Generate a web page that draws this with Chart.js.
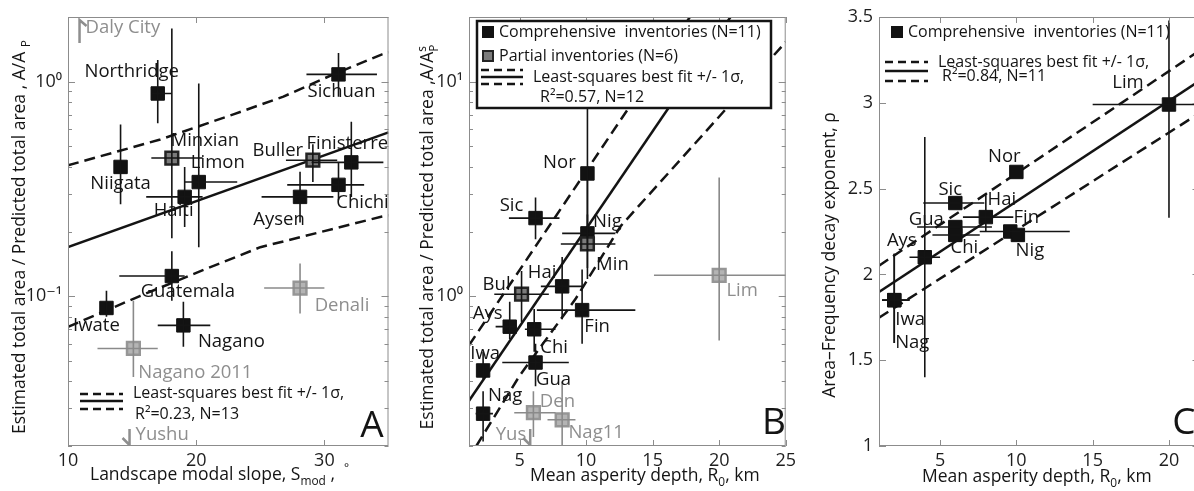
<!DOCTYPE html>
<html>
<head>
<meta charset="utf-8">
<title>Landslide area ratio and decay exponent</title>
<script src="https://cdn.jsdelivr.net/npm/chart.js@4.4.1/dist/chart.umd.min.js"></script>
<style>
  html, body { margin: 0; padding: 0; background: #fff; overflow: hidden; }
  body { width: 1194px; height: 491px; position: relative; }
  canvas { position: absolute; top: 0; }
</style>
</head>
<body>
<canvas id="panelA" width="400" height="491" style="left:0px"></canvas>
<canvas id="panelB" width="400" height="491" style="left:400px"></canvas>
<canvas id="panelC" width="410" height="491" style="left:800px"></canvas>
<script>
const FAMILY = "'Open Sans', 'DejaVu Sans', sans-serif";
const INK = '#141414';
const GREY_TEXT = '#8e8e8e';
const GREY_LINE = '#8a8a8a';
const FRAME = '#8c8c8c';
const LABEL_SIZE = 18.5;
const TICK_SIZE = 18;
const TITLE_SIZE = 17.5;

// ---------- Panel A: landscape modal slope ----------
const aNames = ['Northridge', 'Sichuan', 'Minxian', 'Limon', 'Haiti', 'Niigata', 'Buller', 'Finisterre',
                'Chichi', 'Aysen', 'Guatemala', 'Iwate', 'Nagano', 'Denali', 'Nagano 2011'];
const aKind = ['c', 'c', 'p', 'c', 'c', 'c', 'p', 'c', 'c', 'c', 'c', 'c', 'c', 'x', 'x'];
const aSlope   = [17.0, 31.1, 18.1, 20.2, 19.1, 14.1, 29.1, 32.1, 31.1, 28.1, 18.1, 13.0, 19.0, 28.1, 15.1];
const aSlopeLo = [16.5, 28.6, 16.5, 19.1, 16.1, 14.1, 27.0, 29.0, 27.1, 25.1, 14.0, 13.0, 17.0, 25.3, 12.3];
const aSlopeHi = [18.1, 34.1, 20.5, 23.2, 20.5, 14.1, 31.0, 34.6, 33.1, 30.7, 19.1, 13.0, 21.1, 30.0, 17.0];
const aRatio   = [0.88, 1.08, 0.44, 0.34, 0.29, 0.40, 0.43, 0.42, 0.33, 0.29, 0.124, 0.088, 0.073, 0.109, 0.057];
const aRatioLo = [0.64, 0.85, 0.186, 0.169, 0.21, 0.268, 0.34, 0.29, 0.28, 0.22, 0.095, 0.08, 0.058, 0.083, 0.042];
const aRatioHi = [1.26, 1.36, 1.77, 0.98, 0.40, 0.63, 0.51, 0.65, 0.42, 0.38, 0.162, 0.106, 0.094, 0.142, 0.095];
const aFitX = [10, 35];
const aFitY = [0.169, 0.58];
const aUpX = [10, 17.2, 22.9, 26.8, 30.7, 34.5, 35];
const aUpY = [0.407, 0.537, 0.703, 0.851, 1.08, 1.34, 1.37];
const aLoX = [10, 15.6, 20.1, 25.0, 28.1, 34.5, 35];
const aLoY = [0.0718, 0.1, 0.129, 0.169, 0.188, 0.235, 0.238];
const aOffNames = ['Daly City', 'Yushu'];
const aOffSlope = [10.9, 14.8];
const aOffDir = ['up', 'down'];
const aSlopeTicks = [10, 20, 30];
const aRatioTicks = [0.02, 0.03, 0.04, 0.05, 0.06, 0.07, 0.08, 0.09, 0.1, 0.2, 0.3, 0.4, 0.5, 0.6, 0.7, 0.8, 0.9, 1, 2];
const aRatioMajor = [0.1, 1];
const aRatioMajorText = ['10\u207B\u00B9', '10\u2070'];

// ---------- Panel B: asperity depth vs area ratio ----------
const bNames = ['Nor', 'Sic', 'Nig', 'Min', 'Lim', 'Hai', 'Bul', 'Fin', 'Ays', 'Chi', 'Gua', 'Iwa', 'Nag', 'Den', 'Nag11'];
const bKind = ['c', 'c', 'c', 'p', 'x', 'c', 'p', 'c', 'c', 'c', 'c', 'c', 'c', 'x', 'x'];
const bDepth   = [10.1, 6.2, 10.1, 10.1, 20.0, 8.2, 5.15, 9.7, 4.26, 6.1, 6.2, 2.26, 2.26, 6.04, 8.2];
const bDepthLo = [10.1, 4.2, 8.2, 8.1, 15.1, 6.6, 3.1, 6.3, 3.2, 5.4, 3.7, 2.26, 1.7, 4.6, 7.1];
const bDepthHi = [10.1, 8.0, 12.2, 12.2, 25.0, 9.7, 7.2, 13.7, 4.8, 7.7, 8.7, 2.26, 3.0, 7.7, 9.2];
const bRatio   = [3.73, 2.31, 1.96, 1.75, 1.25, 1.11, 1.02, 0.86, 0.72, 0.70, 0.49, 0.45, 0.283, 0.286, 0.265];
const bRatioLo = [1.9, 1.84, 1.35, 1.2, 0.62, 0.78, 0.757, 0.6, 0.63, 0.55, 0.38, 0.41, 0.21, 0.22, 0.2];
const bRatioHi = [15, 2.88, 3.7, 2.4, 3.57, 1.52, 1.31, 1.33, 0.94, 0.87, 0.6, 0.55, 0.36, 0.36, 0.4];
const bFitX = [1.2, 20.85];
const bFitY = [0.325, 20];
const bUpX = [1.2, 17.8];
const bUpY = [0.59, 20];
const bLoX = [1.75, 5.0, 9.2, 12.6, 19.8, 25];
const bLoY = [0.2, 0.425, 0.968, 2.12, 6.65, 15.3];
const bOffNames = ['Yus'];
const bOffDepth = [5.8];
const bOffDir = ['down'];
const bDepthTicks = [5, 10, 15, 20, 25];
const bRatioTicks = [0.2, 0.3, 0.4, 0.5, 0.6, 0.7, 0.8, 0.9, 1, 2, 3, 4, 5, 6, 7, 8, 9, 10, 20];
const bRatioMajor = [1, 10];
const bRatioMajorText = ['10\u2070', '10\u00B9'];

// ---------- Panel C: asperity depth vs decay exponent ----------
const cNames = ['Lim', 'Nor', 'Sic', 'Hai', 'Gua', 'Chi', 'Fin', 'Nig', 'Ays', 'Iwa', 'Nag'];
const cKind = ['c', 'c', 'c', 'c', 'c', 'c', 'c', 'c', 'c', 'c', 'c'];
const cDepth   = [20.0, 10.0, 6.0, 8.0, 6.0, 6.0, 9.6, 10.1, 4.0, 2.0, 2.0];
const cDepthLo = [15.0, 10.0, 3.9, 6.5, 3.5, 4.5, 7.6, 10.1, 3.0, 1.2, 1.2];
const cDepthHi = [25.0, 10.0, 7.9, 9.8, 8.4, 7.6, 13.5, 10.1, 5.0, 3.0, 3.0];
const cRho   = [2.99, 2.597, 2.416, 2.334, 2.276, 2.23, 2.25, 2.23, 2.10, 1.85, 1.85];
const cRhoLo = [2.33, 2.597, 2.416, 2.25, 2.276, 2.23, 2.25, 2.23, 1.40, 1.60, 1.60];
const cRhoHi = [3.48, 2.597, 2.416, 2.47, 2.276, 2.23, 2.25, 2.23, 2.80, 2.12, 2.12];
const cFitX = [1, 22];
const cFitY = [1.897, 3.128];
const cUpX = [1, 22];
const cUpY = [2.051, 3.304];
const cLoX = [1, 22];
const cLoY = [1.748, 2.94];
const cDepthTicks = [5, 10, 15, 20];
const cRhoTicks = [1, 1.5, 2, 2.5, 3, 3.5];

// label offsets in pixels from each marker (layout only)
const aLabelDx = [-26, 3, 33, 19, -11, 0, -35, -4, 24, -21, 16, -10, 48, 42, 62];
const aLabelDy = [-22, 17, -17, -19, 14, 17, -9, -19, 18, 23, 16, 18, 16, 18, 24];
const bLabelDx = [-28, -24, 20, 25, 23, -20, -25, 15, -22, 20, 18, 2, 22, 24, 34];
const bLabelDy = [-11, -12, -12, 21, 15, -14, -9, 17, -13, 18, 17, -17, -18, -11, 13];
const cLabelDx = [-41, -12, -5, 16, -29, 9, 16, 12, -23, 16, 18];
const cLabelDy = [-22, -15, -13, -17, -7, 13, -14, 16, -17, 20, 43];

const MARKER = {
  c: { backgroundColor: '#121212', borderColor: '#121212', borderWidth: 1, pointRadius: 9.5 },
  p: { backgroundColor: '#7b7b7b', borderColor: '#242424', borderWidth: 2.5, pointRadius: 9 },
  x: { backgroundColor: '#b4b4b4', borderColor: '#969696', borderWidth: 2.5, pointRadius: 9 }
};

function font(size) {
  return size + 'px ' + FAMILY;
}

// text made of pieces: plain, subscript, superscript, stacked sup/sub, or a gap
function richWidth(ctx, parts, size) {
  let w = 0;
  parts.forEach(part => {
    if (part.gap) { w += part.gap; return; }
    if (part.stack) {
      ctx.font = font(size * 0.68);
      w += Math.max(ctx.measureText(part.stack[0]).width, ctx.measureText(part.stack[1]).width);
      return;
    }
    ctx.font = font(part.sub || part.sup ? size * 0.68 : size);
    w += ctx.measureText(part.t).width;
  });
  return w;
}

function drawRich(ctx, parts, x, y, size, align) {
  let cx = align === 'center' ? x - richWidth(ctx, parts, size) / 2 : x;
  ctx.textAlign = 'left';
  ctx.textBaseline = 'alphabetic';
  parts.forEach(part => {
    if (part.gap) { cx += part.gap; return; }
    if (part.stack) {
      ctx.font = font(size * 0.68);
      ctx.fillText(part.stack[0], cx, y - size * 0.42);
      ctx.fillText(part.stack[1], cx, y + size * 0.3);
      cx += Math.max(ctx.measureText(part.stack[0]).width, ctx.measureText(part.stack[1]).width);
      return;
    }
    if (part.sub || part.sup) {
      ctx.font = font(size * 0.68);
      ctx.fillText(part.t, cx, part.sub ? y + size * 0.3 : y - size * 0.45);
    } else {
      ctx.font = font(size);
      ctx.fillText(part.t, cx, y);
    }
    cx += ctx.measureText(part.t).width;
  });
}

function fitSample(ctx, x0, x1, rows) {
  ctx.save();
  ctx.strokeStyle = INK;
  ctx.lineWidth = 2.5;
  rows.forEach((y, i) => {
    ctx.setLineDash(i === 1 ? [] : [8, 5]);
    ctx.beginPath();
    ctx.moveTo(x0, y);
    ctx.lineTo(x1, y);
    ctx.stroke();
  });
  ctx.restore();
}

function legendSquare(ctx, kind, cx, cy, side) {
  const m = MARKER[kind];
  ctx.fillStyle = m.backgroundColor;
  ctx.fillRect(cx - side / 2, cy - side / 2, side, side);
  ctx.strokeStyle = m.borderColor;
  ctx.lineWidth = kind === 'c' ? 1 : 2;
  ctx.strokeRect(cx - side / 2, cy - side / 2, side, side);
}

function legendText(ctx, text, x, cy, size) {
  ctx.font = font(size);
  ctx.fillStyle = INK;
  ctx.textAlign = 'left';
  ctx.textBaseline = 'middle';
  ctx.fillText(text, x, cy);
}

const panels = [
  {
    id: 'panelA', left: 0, axisW: 68, rightPad: 10,
    xMin: 10, xMax: 35, xTicks: aSlopeTicks,
    yType: 'logarithmic', yMin: 0.02, yMax: 2, yTicks: aRatioTicks,
    yMajor: aRatioMajor, yMajorText: aRatioMajorText,
    names: aNames, kind: aKind, xs: aSlope, xLo: aSlopeLo, xHi: aSlopeHi,
    ys: aRatio, yLo: aRatioLo, yHi: aRatioHi, dx: aLabelDx, dy: aLabelDy,
    fits: [[aFitX, aFitY, []], [aUpX, aUpY, [11, 6]], [aLoX, aLoY, [11, 6]]],
    off: { names: aOffNames, xs: aOffSlope, dir: aOffDir, side: ['right', 'right'] },
    xTitle: [{ t: 'Landscape modal slope, S' }, { t: 'mod', sub: true }, { t: ' ,' }, { gap: 9 }, { t: '\u00B0', sup: true }],
    xTitleAt: [90, 480], xTitleAlign: 'left',
    yTitle: [{ t: 'Estimated total area / Predicted total area , A/A ' }, { t: 'P', sub: true }],
    yTitleAt: [25, 237],
    letter: ['A', 372, 426],
    legend(ctx) {
      fitSample(ctx, 80, 123, [394, 401, 409]);
      legendText(ctx, 'Least-squares best fit +/- 1\u03C3,', 133, 393, 16);
      legendText(ctx, 'R\u00B2=0.23, N=13', 135, 414, 16);
    }
  },
  {
    id: 'panelB', left: 400, axisW: 69, rightPad: 10,
    xMin: 1.2, xMax: 25, xTicks: bDepthTicks,
    yType: 'logarithmic', yMin: 0.2, yMax: 20, yTicks: bRatioTicks,
    yMajor: bRatioMajor, yMajorText: bRatioMajorText,
    names: bNames, kind: bKind, xs: bDepth, xLo: bDepthLo, xHi: bDepthHi,
    ys: bRatio, yLo: bRatioLo, yHi: bRatioHi, dx: bLabelDx, dy: bLabelDy,
    fits: [[bFitX, bFitY, []], [bUpX, bUpY, [11, 6]], [bLoX, bLoY, [11, 6]]],
    off: { names: bOffNames, xs: bOffDepth, dir: bOffDir, side: ['left'] },
    xTitle: [{ t: 'Mean asperity depth, R' }, { t: '0', sub: true }, { t: ', km' }],
    xTitleAt: [530, 481], xTitleAlign: 'left',
    yTitle: [{ t: 'Estimated total area / Predicted total area ,A/A' }, { stack: ['s', 'P'] }],
    yTitleAt: [433, 237],
    letter: ['B', 774, 423],
    legend(ctx) {
      ctx.fillStyle = '#ffffff';
      ctx.fillRect(477, 21, 294, 87);
      ctx.strokeStyle = INK;
      ctx.lineWidth = 2.5;
      ctx.strokeRect(477, 21, 294, 87);
      legendSquare(ctx, 'c', 488, 32, 11);
      legendText(ctx, 'Comprehensive  inventories (N=11)', 499, 32, 16);
      legendSquare(ctx, 'p', 488, 56, 10);
      legendText(ctx, 'Partial inventories (N=6)', 499, 56, 16);
      fitSample(ctx, 481, 523, [70, 77, 84]);
      legendText(ctx, 'Least-squares best fit +/- 1\u03C3,', 533, 77, 16);
      legendText(ctx, 'R\u00B2=0.57, N=12', 540, 97, 16);
    }
  },
  {
    id: 'panelC', left: 800, axisW: 79, rightPad: 10,
    xMin: 1, xMax: 22, xTicks: cDepthTicks,
    yType: 'linear', yMin: 1, yMax: 3.5, yTicks: cRhoTicks,
    yMajor: null, yMajorText: null,
    names: cNames, kind: cKind, xs: cDepth, xLo: cDepthLo, xHi: cDepthHi,
    ys: cRho, yLo: cRhoLo, yHi: cRhoHi, dx: cLabelDx, dy: cLabelDy,
    fits: [[cFitX, cFitY, []], [cUpX, cUpY, [11, 6]], [cLoX, cLoY, [11, 6]]],
    off: null,
    xTitle: [{ t: 'Mean asperity depth, R' }, { t: '0', sub: true }, { t: ', km' }],
    xTitleAt: [922, 482], xTitleAlign: 'left',
    yTitle: [{ t: 'Area\u2013Frequency decay exponent, \u03C1' }],
    yTitleAt: [835, 255],
    letter: ['C', 1184, 423],
    legend(ctx) {
      legendSquare(ctx, 'c', 897, 32, 11);
      legendText(ctx, 'Comprehensive  inventories (N=11)', 908, 32, 16);
      fitSample(ctx, 885, 928, [62, 71, 81]);
      legendText(ctx, 'Least-squares best fit +/- 1\u03C3,', 938, 62, 16);
      legendText(ctx, 'R\u00B2=0.84, N=11', 942, 76, 16);
    }
  }
];

function decorations(p) {
  return {
    id: 'decor',
    afterDatasetsDraw(chart) {
      const ctx = chart.ctx;
      const sx = chart.scales.x, sy = chart.scales.y;
      const area = chart.chartArea;

      ctx.save();
      ctx.beginPath();
      ctx.rect(area.left, area.top, area.right - area.left, area.bottom - area.top);
      ctx.clip();

      // error bars
      ctx.lineWidth = 1.6;
      p.names.forEach((name, i) => {
        ctx.strokeStyle = p.kind[i] === 'x' ? GREY_LINE : INK;
        const px = sx.getPixelForValue(p.xs[i]);
        const py = sy.getPixelForValue(p.ys[i]);
        ctx.beginPath();
        if (p.xHi[i] > p.xLo[i]) {
          ctx.moveTo(sx.getPixelForValue(p.xLo[i]), py);
          ctx.lineTo(sx.getPixelForValue(p.xHi[i]), py);
        }
        if (p.yHi[i] > p.yLo[i]) {
          ctx.moveTo(px, sy.getPixelForValue(p.yLo[i]));
          ctx.lineTo(px, sy.getPixelForValue(p.yHi[i]));
        }
        ctx.stroke();
      });

      // events that fall off the vertical scale
      if (p.off) {
        ctx.strokeStyle = GREY_TEXT;
        ctx.fillStyle = GREY_TEXT;
        ctx.lineWidth = 2.5;
        ctx.font = font(LABEL_SIZE);
        p.off.names.forEach((name, i) => {
          const px = sx.getPixelForValue(p.off.xs[i]);
          const up = p.off.dir[i] === 'up';
          const tip = up ? area.top + 3 : area.bottom - 1;
          const tail = up ? area.top + 26 : area.bottom - 17;
          ctx.beginPath();
          ctx.moveTo(px, tail);
          ctx.lineTo(px, tip);
          if (up) ctx.lineTo(px + 7, tip + 6);
          else { ctx.moveTo(px, tip); ctx.lineTo(px - 7, tip - 7); }
          ctx.stroke();
          ctx.textBaseline = 'middle';
          ctx.textAlign = p.off.side[i] === 'right' ? 'left' : 'right';
          const tx = p.off.side[i] === 'right' ? px + 6 : px - 4;
          ctx.fillText(name, tx, up ? area.top + 11 : area.bottom - 11);
        });
      }
      ctx.restore();

      // event names (not clipped, as in the original)
      ctx.save();
      ctx.font = font(LABEL_SIZE);
      ctx.textAlign = 'center';
      ctx.textBaseline = 'middle';
      p.names.forEach((name, i) => {
        ctx.fillStyle = p.kind[i] === 'x' ? GREY_TEXT : INK;
        ctx.fillText(name, sx.getPixelForValue(p.xs[i]) + p.dx[i], sy.getPixelForValue(p.ys[i]) + p.dy[i]);
      });
      ctx.restore();

      // axis box with inward ticks on all four sides
      ctx.save();
      ctx.strokeStyle = FRAME;
      ctx.lineWidth = 1;
      ctx.strokeRect(area.left + 0.5, area.top + 0.5, area.right - area.left - 1, area.bottom - area.top - 1);
      ctx.beginPath();
      sx.ticks.forEach(t => {
        const px = Math.round(sx.getPixelForValue(t.value)) + 0.5;
        ctx.moveTo(px, area.bottom);
        ctx.lineTo(px, area.bottom - 6);
        ctx.moveTo(px, area.top);
        ctx.lineTo(px, area.top + 6);
      });
      sy.ticks.forEach(t => {
        const py = Math.round(sy.getPixelForValue(t.value)) + 0.5;
        const len = p.yMajor && !p.yMajor.some(m => Math.abs(m - t.value) < 1e-9) ? 4 : 7;
        ctx.moveTo(area.left, py);
        ctx.lineTo(area.left + len, py);
        ctx.moveTo(area.right, py);
        ctx.lineTo(area.right - len, py);
      });
      ctx.stroke();
      ctx.restore();
    },
    afterDraw(chart) {
      const ctx = chart.ctx;
      ctx.save();
      ctx.translate(-p.left, 0);
      p.legend(ctx);

      ctx.fillStyle = INK;
      drawRich(ctx, p.xTitle, p.xTitleAt[0], p.xTitleAt[1], TITLE_SIZE, p.xTitleAlign);

      ctx.save();
      ctx.translate(p.yTitleAt[0], p.yTitleAt[1]);
      ctx.rotate(-Math.PI / 2);
      drawRich(ctx, p.yTitle, 0, 0, TITLE_SIZE, 'center');
      ctx.restore();

      ctx.font = font(37);
      ctx.textAlign = 'center';
      ctx.textBaseline = 'middle';
      ctx.fillText(p.letter[0], p.letter[1], p.letter[2]);
      ctx.restore();
    }
  };
}

function pointsOf(p, want) {
  const pts = [];
  p.xs.forEach((x, i) => {
    if (p.kind[i] === want) pts.push({ x: x, y: p.ys[i] });
  });
  return pts;
}

function buildChart(p) {
  const datasets = [];
  ['p', 'x', 'c'].forEach(k => {
    const pts = pointsOf(p, k);
    if (!pts.length) return;
    const m = MARKER[k];
    datasets.push({
      data: pts,
      pointStyle: 'rect',
      pointRadius: m.pointRadius,
      pointBackgroundColor: m.backgroundColor,
      pointBorderColor: m.borderColor,
      pointBorderWidth: m.borderWidth,
      showLine: false
    });
  });
  p.fits.forEach(f => {
    datasets.push({
      data: f[0].map((x, i) => ({ x: x, y: f[1][i] })),
      showLine: true,
      pointRadius: 0,
      borderColor: INK,
      borderWidth: 2.5,
      borderDash: f[2],
      fill: false
    });
  });

  const tickFont = { family: FAMILY, size: TICK_SIZE };
  return new Chart(document.getElementById(p.id), {
    type: 'scatter',
    data: { datasets: datasets },
    options: {
      responsive: false,
      animation: false,
      events: [],
      layout: { padding: { left: 0, right: p.rightPad, top: 17, bottom: 0 } },
      plugins: { legend: { display: false }, tooltip: { enabled: false } },
      scales: {
        x: {
          type: 'linear',
          position: 'bottom',
          min: p.xMin,
          max: p.xMax,
          bounds: 'data',
          afterBuildTicks: s => { s.ticks = p.xTicks.map(v => ({ value: v })); },
          afterFit: s => { s.height = 45; },
          grid: { display: false, drawTicks: false },
          border: { display: false },
          ticks: { autoSkip: false, maxRotation: 0, padding: 4, color: '#1e1e1e', font: tickFont }
        },
        y: {
          type: p.yType,
          position: 'left',
          min: p.yMin,
          max: p.yMax,
          bounds: 'data',
          afterBuildTicks: s => { s.ticks = p.yTicks.map(v => ({ value: v })); },
          afterFit: s => { s.width = p.axisW; },
          grid: { display: false, drawTicks: false },
          border: { display: false },
          ticks: {
            autoSkip: false,
            padding: 6,
            color: '#1e1e1e',
            font: tickFont,
            callback: value => {
              if (!p.yMajor) return String(value);
              const k = p.yMajor.findIndex(m => Math.abs(m - value) < 1e-9);
              return k >= 0 ? p.yMajorText[k] : '';
            }
          }
        }
      }
    },
    plugins: [decorations(p)]
  });
}

panels.forEach(buildChart);
</script>
</body>
</html>
